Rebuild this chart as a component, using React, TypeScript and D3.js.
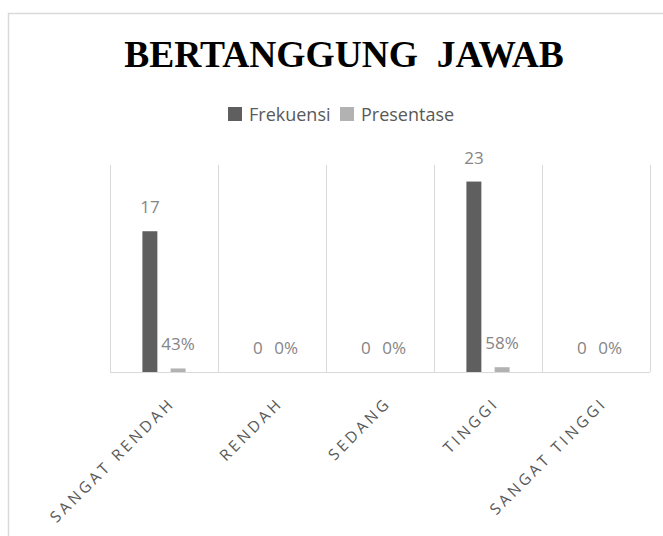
import React, { useRef, useEffect } from 'react';
import * as d3 from 'd3';

const categories = ['SANGAT RENDAH', 'RENDAH', 'SEDANG', 'TINGGI', 'SANGAT TINGGI'];
const seriesNames = ['Frekuensi', 'Presentase'];
const frekuensi = [17, 0, 0, 23, 0];
const presentase = [0.43, 0, 0, 0.58, 0];
const seriesColors = ['#5f5f5f', '#b2b2b2'];

const formatters = [(v: number) => `${v}`, (v: number) => `${Math.round(v * 100)}%`];

const App = () => {
  const width = 663;
  const height = 536;
  const ref = useRef(null);

  useEffect(() => {
    const svg = d3.select(ref.current);
    svg.selectAll('*').remove();

    const margin = { top: 165, right: 13, bottom: 164, left: 110 };
    const innerW = width - margin.left - margin.right;
    const innerH = height - margin.top - margin.bottom;

    const x0 = d3
      .scaleBand()
      .domain(categories)
      .range([0, innerW])
      .paddingInner(0.6)
      .paddingOuter(0.3);
    const x1 = d3
      .scaleBand()
      .domain(seriesNames)
      .range([0, x0.bandwidth()])
      .paddingInner(0.47);
    const y = d3.scaleLinear().domain([0, 25]).range([innerH, 0]);
    const step = x0.step();

    // outer chart frame
    svg
      .append('rect')
      .attr('x', 8.5)
      .attr('y', 13.5)
      .attr('width', 700)
      .attr('height', 600)
      .attr('fill', 'white')
      .attr('stroke', '#d9d9d9')
      .attr('stroke-width', 1.5);

    svg
      .append('text')
      .text('BERTANGGUNG  JAWAB')
      .attr('x', 344)
      .attr('y', 67)
      .attr('text-anchor', 'middle')
      .style('white-space', 'pre')
      .style('font-family', '"Liberation Serif", "Times New Roman", serif')
      .style('font-weight', 'bold')
      .style('font-size', '37.5px')
      .attr('fill', '#000');

    // legend
    const legend = svg.append('g').attr('transform', 'translate(228, 107)');
    const legendX = [0, 112];
    seriesNames.forEach((s, i) => {
      const lg = legend.append('g').attr('transform', `translate(${legendX[i]}, 0)`);
      lg.append('rect').attr('width', 14).attr('height', 14).attr('fill', seriesColors[i]);
      lg.append('text')
        .text(s)
        .attr('x', 21)
        .attr('y', 14)
        .style('font-family', '"Open Sans", sans-serif')
        .style('font-size', '18px')
        .attr('fill', '#595959');
    });

    const g = svg.append('g').attr('transform', `translate(${margin.left}, ${margin.top})`);

    // vertical gridlines between categories
    g.selectAll('line.grid')
      .data(d3.range(categories.length + 1))
      .enter()
      .append('line')
      .attr('x1', (i) => i * step + 0.5)
      .attr('x2', (i) => i * step + 0.5)
      .attr('y1', 0)
      .attr('y2', innerH)
      .attr('stroke', '#d9d9d9')
      .attr('stroke-width', 1);

    g.append('line')
      .attr('x1', 0)
      .attr('x2', innerW)
      .attr('y1', innerH + 0.5)
      .attr('y2', innerH + 0.5)
      .attr('stroke', '#d9d9d9');

    const allSeries = [frekuensi, presentase];
    const groups = g
      .selectAll('g.cat')
      .data(categories)
      .enter()
      .append('g')
      .attr('transform', (d) => `translate(${x0(d)}, 0)`);

    groups.each(function (this: any, d, ci) {
      const el = d3.select(this);
      seriesNames.forEach((s, si) => {
        const v = allSeries[si][ci];
        const bx = x1(s) as number;
        el.append('rect')
          .attr('x', bx)
          .attr('y', y(v))
          .attr('width', x1.bandwidth())
          .attr('height', innerH - y(v))
          .attr('fill', seriesColors[si]);
        el.append('text')
          .text(formatters[si](v))
          .attr('x', bx + x1.bandwidth() / 2)
          .attr('y', y(v) - 18)
          .attr('text-anchor', 'middle')
          .style('font-family', '"Open Sans", sans-serif')
          .style('font-size', '17px')
          .attr('fill', '#858585');
      });
    });

    // rotated category labels
    g.selectAll('text.cat')
      .data(categories)
      .enter()
      .append('text')
      .text((d) => d)
      .attr('text-anchor', 'end')
      .attr(
        'transform',
        (d) => `translate(${(x0(d) as number) + x0.bandwidth() / 2 + 12}, ${innerH + 32}) rotate(-45)`,
      )
      .style('font-family', '"Open Sans", sans-serif')
      .style('font-size', '15.5px')
      .style('letter-spacing', '3.3px')
      .attr('fill', '#595959');
  }, []);

  return (
    <svg
      ref={ref}
      width={width}
      height={height}
      style={{ position: 'absolute', left: 0, top: 0, display: 'block' }}
    />
  );
};

export default App;
